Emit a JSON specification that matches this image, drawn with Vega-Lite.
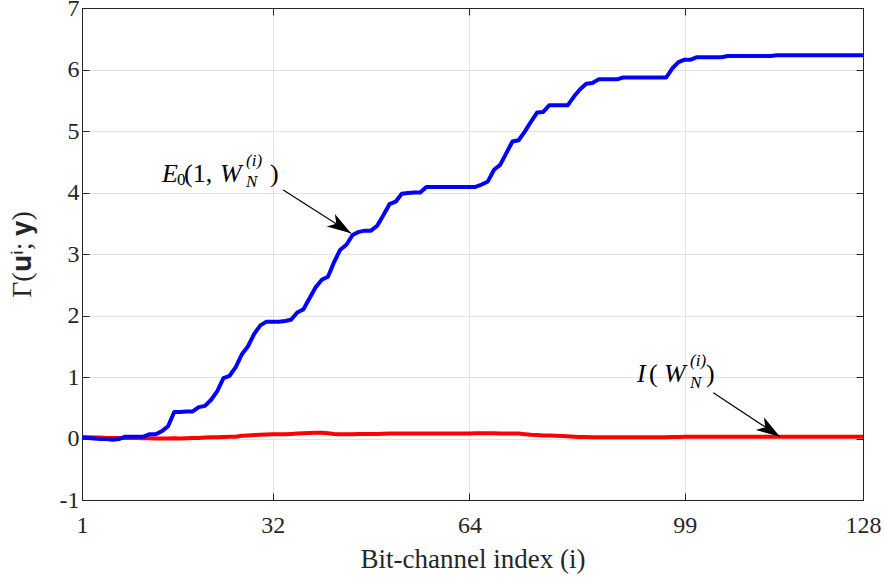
{
  "$schema": "https://vega.github.io/schema/vega-lite/v6.json",
  "width": 781,
  "height": 492,
  "autosize": "none",
  "padding": {"left": 82, "top": 8, "right": 22, "bottom": 77},
  "background": "white",
  "config": {
    "font": "Liberation Serif",
    "view": {"stroke": "#262626", "strokeWidth": 1},
    "axis": {
      "labelFont": "Liberation Serif",
      "titleFont": "Liberation Serif",
      "labelFontSize": 24,
      "titleFontSize": 27,
      "titleFontWeight": "normal",
      "labelColor": "#262626",
      "titleColor": "#262626",
      "domainColor": "#262626",
      "tickColor": "#262626",
      "gridColor": "#e3e3e3",
      "gridWidth": 1
    }
  },
  "datasets": {
    "curves": [
      {"i":1,"E0":0.02,"I":0.02},{"i":2,"E0":0.01,"I":0.02},{"i":3,"E0":0.0,"I":0.015},{"i":4,"E0":-0.01,"I":0.015},
      {"i":5,"E0":-0.01,"I":0.01},{"i":6,"E0":-0.02,"I":0.01},{"i":7,"E0":-0.01,"I":0.01},{"i":8,"E0":0.03,"I":0.01},
      {"i":9,"E0":0.03,"I":0.01},{"i":10,"E0":0.03,"I":0.01},{"i":11,"E0":0.03,"I":0.005},{"i":12,"E0":0.07,"I":0.005},
      {"i":13,"E0":0.07,"I":0.0},{"i":14,"E0":0.12,"I":0.0},{"i":15,"E0":0.2,"I":0.0},{"i":16,"E0":0.43,"I":0.005},
      {"i":17,"E0":0.43,"I":0.0},{"i":18,"E0":0.44,"I":0.005},{"i":19,"E0":0.44,"I":0.01},{"i":20,"E0":0.51,"I":0.01},
      {"i":21,"E0":0.53,"I":0.015},{"i":22,"E0":0.63,"I":0.02},{"i":23,"E0":0.77,"I":0.02},{"i":24,"E0":0.98,"I":0.025},
      {"i":25,"E0":1.02,"I":0.03},{"i":26,"E0":1.16,"I":0.03},{"i":27,"E0":1.37,"I":0.045},{"i":28,"E0":1.5,"I":0.05},
      {"i":29,"E0":1.7,"I":0.055},{"i":30,"E0":1.84,"I":0.06},{"i":31,"E0":1.9,"I":0.065},{"i":32,"E0":1.9,"I":0.07},
      {"i":33,"E0":1.9,"I":0.07},{"i":34,"E0":1.91,"I":0.07},{"i":35,"E0":1.93,"I":0.075},{"i":36,"E0":2.05,"I":0.08},
      {"i":37,"E0":2.1,"I":0.085},{"i":38,"E0":2.28,"I":0.09},{"i":39,"E0":2.46,"I":0.095},{"i":40,"E0":2.58,"I":0.095},
      {"i":41,"E0":2.63,"I":0.085},{"i":42,"E0":2.87,"I":0.075},{"i":43,"E0":3.07,"I":0.07},{"i":44,"E0":3.15,"I":0.07},
      {"i":45,"E0":3.31,"I":0.07},{"i":46,"E0":3.36,"I":0.072},{"i":47,"E0":3.38,"I":0.075},{"i":48,"E0":3.38,"I":0.075},
      {"i":49,"E0":3.46,"I":0.075},{"i":50,"E0":3.63,"I":0.078},{"i":51,"E0":3.81,"I":0.08},{"i":52,"E0":3.85,"I":0.08},
      {"i":53,"E0":3.98,"I":0.08},{"i":54,"E0":3.99,"I":0.08},{"i":55,"E0":4.0,"I":0.08},{"i":56,"E0":4.0,"I":0.08},
      {"i":57,"E0":4.09,"I":0.08},{"i":58,"E0":4.09,"I":0.08},{"i":59,"E0":4.09,"I":0.08},{"i":60,"E0":4.09,"I":0.08},
      {"i":61,"E0":4.09,"I":0.08},{"i":62,"E0":4.09,"I":0.08},{"i":63,"E0":4.09,"I":0.08},{"i":64,"E0":4.09,"I":0.08},
      {"i":65,"E0":4.09,"I":0.085},{"i":66,"E0":4.13,"I":0.085},{"i":67,"E0":4.18,"I":0.085},{"i":68,"E0":4.37,"I":0.085},
      {"i":69,"E0":4.45,"I":0.08},{"i":70,"E0":4.64,"I":0.08},{"i":71,"E0":4.83,"I":0.08},{"i":72,"E0":4.85,"I":0.08},
      {"i":73,"E0":4.99,"I":0.07},{"i":74,"E0":5.15,"I":0.06},{"i":75,"E0":5.3,"I":0.055},{"i":76,"E0":5.31,"I":0.05},
      {"i":77,"E0":5.42,"I":0.05},{"i":78,"E0":5.42,"I":0.045},{"i":79,"E0":5.42,"I":0.04},{"i":80,"E0":5.42,"I":0.035},
      {"i":81,"E0":5.56,"I":0.03},{"i":82,"E0":5.68,"I":0.025},{"i":83,"E0":5.77,"I":0.025},{"i":84,"E0":5.78,"I":0.02},
      {"i":85,"E0":5.84,"I":0.02},{"i":86,"E0":5.84,"I":0.02},{"i":87,"E0":5.84,"I":0.02},{"i":88,"E0":5.84,"I":0.02},
      {"i":89,"E0":5.87,"I":0.02},{"i":90,"E0":5.87,"I":0.02},{"i":91,"E0":5.87,"I":0.02},{"i":92,"E0":5.87,"I":0.02},
      {"i":93,"E0":5.87,"I":0.02},{"i":94,"E0":5.87,"I":0.02},{"i":95,"E0":5.87,"I":0.02},{"i":96,"E0":5.87,"I":0.02},
      {"i":97,"E0":6.02,"I":0.025},{"i":98,"E0":6.12,"I":0.025},{"i":99,"E0":6.16,"I":0.03},{"i":100,"E0":6.16,"I":0.03},
      {"i":101,"E0":6.2,"I":0.03},{"i":102,"E0":6.2,"I":0.03},{"i":103,"E0":6.2,"I":0.03},{"i":104,"E0":6.2,"I":0.03},
      {"i":105,"E0":6.2,"I":0.03},{"i":106,"E0":6.22,"I":0.03},{"i":107,"E0":6.22,"I":0.03},{"i":108,"E0":6.22,"I":0.03},
      {"i":109,"E0":6.22,"I":0.03},{"i":110,"E0":6.22,"I":0.03},{"i":111,"E0":6.22,"I":0.03},{"i":112,"E0":6.22,"I":0.03},
      {"i":113,"E0":6.22,"I":0.03},{"i":114,"E0":6.23,"I":0.03},{"i":115,"E0":6.23,"I":0.03},{"i":116,"E0":6.23,"I":0.03},
      {"i":117,"E0":6.23,"I":0.03},{"i":118,"E0":6.23,"I":0.03},{"i":119,"E0":6.23,"I":0.03},{"i":120,"E0":6.23,"I":0.03},
      {"i":121,"E0":6.23,"I":0.03},{"i":122,"E0":6.23,"I":0.03},{"i":123,"E0":6.23,"I":0.03},{"i":124,"E0":6.23,"I":0.03},
      {"i":125,"E0":6.23,"I":0.03},{"i":126,"E0":6.23,"I":0.03},{"i":127,"E0":6.23,"I":0.03},{"i":128,"E0":6.23,"I":0.03}
    ],
    "arrows": [
      {"note": "E0", "x": 33.73, "y": 4.04, "x2": 44.74, "y2": 3.337},
      {"note": "I", "x": 103.66, "y": 0.745, "x2": 114.5, "y2": 0.029}
    ],
    "notes": [
      {"note": "E0", "x": 14.01, "y": 4.166},
      {"note": "I", "x": 90.44, "y": 0.924}
    ]
  },
  "layer": [
    {
      "data": {"name": "curves"},
      "mark": {"type": "line", "color": "#ff0000", "strokeWidth": 4, "strokeJoin": "round", "strokeCap": "butt"},
      "encoding": {
        "x": {"field": "i", "type": "quantitative",
              "scale": {"domain": [1, 128], "nice": false, "zero": false},
              "axis": {"values": [1, 32, 64, 99, 128], "title": "Bit-channel index (i)", "grid": true,
                       "tickSize": -7, "labelPadding": 20, "titlePadding": 9, "labelFlush": false}},
        "y": {"field": "I", "type": "quantitative",
              "scale": {"domain": [-1, 7], "nice": false, "zero": false},
              "axis": {"values": [-1, 0, 1, 2, 3, 4, 5, 6, 7], "title": "Γ(𝐮ⁱ; 𝐲)", "grid": true, "titleFontSize": 28,
                       "tickSize": -7, "labelPadding": 10, "titlePadding": 23, "labelExpr": "'' + datum.value", "labelFlush": false}}
      }
    },
    {
      "data": {"name": "curves"},
      "mark": {"type": "line", "color": "#0000ff", "strokeWidth": 4, "strokeJoin": "round", "strokeCap": "butt"},
      "encoding": {
        "x": {"field": "i", "type": "quantitative",
              "axis": {"orient": "top", "values": [1, 32, 64, 99, 128], "labels": false, "title": null, "grid": false, "tickSize": -7}},
        "y": {"field": "E0", "type": "quantitative",
              "axis": {"orient": "right", "values": [-1, 0, 1, 2, 3, 4, 5, 6, 7], "labels": false, "title": null, "grid": false, "tickSize": -7}}
      }
    },
    {
      "data": {"name": "arrows"},
      "mark": {"type": "rule", "color": "black", "strokeWidth": 1.2},
      "encoding": {
        "x": {"field": "x", "type": "quantitative", "axis": null},
        "y": {"field": "y", "type": "quantitative", "axis": null},
        "x2": {"field": "x2"},
        "y2": {"field": "y2"}
      }
    },
    {
      "data": {"name": "arrows"},
      "mark": {"type": "point", "shape": "M0,0 L-2.4,-0.75 L-1.75,0 L-2.4,0.75 Z", "size": 400, "angle": 33, "filled": true, "color": "black", "opacity": 1, "strokeWidth": 0},
      "encoding": {
        "x": {"field": "x2", "type": "quantitative", "axis": null},
        "y": {"field": "y2", "type": "quantitative", "axis": null}
      }
    },
    {
      "data": {"name": "notes"},
      "transform": [{"filter": "datum.note === 'E0'"}],
      "layer": [
        {"mark": {"type": "text", "text": "E", "font": "Liberation Serif", "fontStyle": "italic", "fontSize": 26, "align": "left", "baseline": "alphabetic", "dx": 0, "dy": 0, "color": "black"}},
        {"mark": {"type": "text", "text": "0", "font": "Liberation Serif", "fontSize": 17, "align": "left", "baseline": "alphabetic", "dx": 15, "dy": 3, "color": "black"}},
        {"mark": {"type": "text", "text": "(1,", "font": "Liberation Serif", "fontSize": 26, "align": "left", "baseline": "alphabetic", "dx": 22, "dy": 0, "color": "black"}},
        {"mark": {"type": "text", "text": "W", "font": "Liberation Serif", "fontStyle": "italic", "fontSize": 26, "align": "left", "baseline": "alphabetic", "dx": 58, "dy": 0, "color": "black"}},
        {"mark": {"type": "text", "text": "(i)", "font": "Liberation Serif", "fontStyle": "italic", "fontSize": 17, "align": "left", "baseline": "alphabetic", "dx": 84, "dy": -16, "color": "black"}},
        {"mark": {"type": "text", "text": "N", "font": "Liberation Serif", "fontStyle": "italic", "fontSize": 17, "align": "left", "baseline": "alphabetic", "dx": 84, "dy": 5, "color": "black"}},
        {"mark": {"type": "text", "text": ")", "font": "Liberation Serif", "fontSize": 26, "align": "left", "baseline": "alphabetic", "dx": 108, "dy": 0, "color": "black"}}
      ],
      "encoding": {
        "x": {"field": "x", "type": "quantitative", "axis": null},
        "y": {"field": "y", "type": "quantitative", "axis": null}
      }
    },
    {
      "data": {"name": "notes"},
      "transform": [{"filter": "datum.note === 'I'"}],
      "layer": [
        {"mark": {"type": "text", "text": "I", "font": "Liberation Serif", "fontStyle": "italic", "fontSize": 26, "align": "left", "baseline": "alphabetic", "dx": 5, "dy": 0, "color": "black"}},
        {"mark": {"type": "text", "text": "(", "font": "Liberation Serif", "fontSize": 26, "align": "left", "baseline": "alphabetic", "dx": 17, "dy": 0, "color": "black"}},
        {"mark": {"type": "text", "text": "W", "font": "Liberation Serif", "fontStyle": "italic", "fontSize": 26, "align": "left", "baseline": "alphabetic", "dx": 32, "dy": 0, "color": "black"}},
        {"mark": {"type": "text", "text": "(i)", "font": "Liberation Serif", "fontStyle": "italic", "fontSize": 17, "align": "left", "baseline": "alphabetic", "dx": 58, "dy": -16, "color": "black"}},
        {"mark": {"type": "text", "text": "N", "font": "Liberation Serif", "fontStyle": "italic", "fontSize": 17, "align": "left", "baseline": "alphabetic", "dx": 58, "dy": 6, "color": "black"}},
        {"mark": {"type": "text", "text": ")", "font": "Liberation Serif", "fontSize": 26, "align": "left", "baseline": "alphabetic", "dx": 74, "dy": 0, "color": "black"}}
      ],
      "encoding": {
        "x": {"field": "x", "type": "quantitative", "axis": null},
        "y": {"field": "y", "type": "quantitative", "axis": null}
      }
    }
  ],
  "resolve": {"axis": {"x": "independent", "y": "independent"}}
}
